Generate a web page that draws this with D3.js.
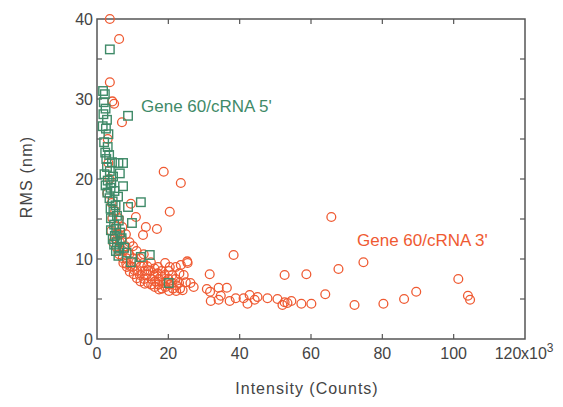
<!DOCTYPE html>
<html><head><meta charset="utf-8">
<script src="https://cdn.jsdelivr.net/npm/d3@7"></script>
<style>body{margin:0;background:#fff}svg{display:block}</style>
</head><body>
<svg id="c" width="563" height="407"></svg>
<script>
// Gene 60/cRNA 3' (circles): [intensity x10^3, RMS nm]
const series3 = [
 [3.6,40.0],[6.2,37.5],[3.6,32.1],[4.3,29.7],[4.8,29.4],[7.0,27.1],[3.0,25.0],
 [18.7,20.9],[23.5,19.5],[20.4,15.9],[16.8,13.75],[13.7,14.0],[12.9,13.0],[10.9,15.25],[9.5,16.9],
 [3.2,22.0],[3.5,20.0],[2.9,18.2],[4.1,17.0],[4.3,15.1],[4.0,13.5],[4.5,12.1],
 [5.1,16.0],[5.3,14.1],[5.0,12.6],[5.4,11.5],[5.6,13.2],
 [6.1,15.1],[6.3,13.0],[6.0,11.1],[6.4,12.1],[6.2,10.6],
 [7.1,14.0],[7.0,12.5],[7.3,11.0],[7.2,10.1],[7.4,9.5],
 [8.1,13.1],[8.0,11.6],[8.3,10.1],[8.2,9.4],[8.4,9.0],
 [9.1,12.1],[9.0,10.6],[9.3,9.1],[9.2,8.4],
 [10.1,11.6],[10.2,10.1],[10.0,9.0],[10.3,8.1],[10.5,8.6],
 [11.1,11.0],[11.0,9.6],[11.3,8.5],[11.2,7.6],
 [12.1,10.1],[12.3,9.1],[12.0,8.0],[12.2,7.2],
 [13.1,10.6],[13.0,9.5],[13.3,8.5],[13.2,7.5],[13.4,6.9],
 [14.1,9.1],[14.0,8.1],[14.3,7.0],[14.4,8.6],
 [15.1,9.6],[15.0,8.5],[15.3,7.5],[15.2,6.8],
 [16.1,8.8],[16.0,8.0],[16.3,7.2],[16.2,6.5],
 [17.1,9.0],[17.0,8.2],[17.3,7.5],[17.2,6.8],[17.4,6.2],
 [18.1,8.5],[18.0,7.8],[18.3,7.0],[18.2,6.3],
 [19.1,9.5],[19.0,8.0],[19.3,7.2],[19.2,6.5],
 [20.1,8.5],[20.0,7.5],[20.3,6.8],[20.2,6.0],[20.4,9.0],
 [21.1,8.0],[21.0,7.0],[21.3,6.3],
 [22.1,9.0],[22.0,7.5],[22.3,6.7],[22.2,6.0],
 [23.1,8.2],[23.0,7.0],[23.3,6.3],
 [23.5,9.25],[25.4,9.5],[25.3,9.7],[24.3,8.0],[24.9,7.1],[27.1,6.5],[24.0,6.1],[26.2,7.0],
 [30.8,6.25],[31.6,8.1],[31.7,5.9],[31.9,4.75],[34.1,6.4],[34.1,4.9],[34.7,5.4],[36.4,6.4],
 [37.2,4.75],[38.3,10.5],[38.9,5.1],[41.1,5.1],[42.2,4.4],[42.8,5.5],[44.2,4.9],[45.0,5.25],
 [47.8,5.1],[50.6,5.0],[52.0,4.25],[52.6,4.6],[52.6,8.0],[53.4,4.5],[54.5,4.75],[57.3,4.4],
 [58.7,8.1],[60.1,4.4],[64.0,5.6],[65.7,15.25],[67.7,8.75],[72.2,4.25],[74.7,9.6],
 [80.3,4.4],[86.1,5.0],[89.5,5.9],[101.3,7.5],[104.0,5.4],[104.6,4.9]
];
// Gene 60/cRNA 5' (squares)
const series5 = [
 [3.6,36.2],[1.7,31.0],[2.2,30.6],[1.9,29.6],[2.4,28.8],[1.8,28.1],[2.8,27.4],[1.6,26.6],
 [2.5,26.3],[3.2,25.6],[8.7,27.9],[2.0,24.6],[3.0,24.0],[2.3,23.3],[3.4,23.0],[4.2,22.1],
 [7.3,22.0],[6.0,22.0],[2.8,21.5],[3.6,21.0],[2.1,20.6],[4.5,20.3],[6.4,20.7],[3.0,19.8],[2.4,19.2],
 [3.8,18.9],[7.3,19.1],[4.9,18.5],[2.9,18.3],[3.5,17.6],[4.4,17.2],[12.3,17.1],[5.2,16.7],
 [3.8,16.3],[8.7,16.5],[4.6,15.9],[5.6,15.4],[3.9,15.1],[6.1,14.8],[9.8,14.5],[4.8,14.3],
 [5.4,13.8],[3.9,13.6],[6.5,13.3],[5.0,12.9],[4.4,12.5],[6.9,12.6],[5.6,12.1],[4.8,11.8],
 [7.6,11.4],[6.3,11.3],[5.3,11.0],[8.3,10.8],[6.0,10.4],[12.3,10.25],[14.8,10.5],[9.5,9.6],
 [20.1,7.0],[4.0,19.5],[5.9,17.8],[2.6,22.5]
];
const xTicks = [0,20,40,60,80,100,120];
const yTicks = [0,10,20,30,40];
const yMinor = [5,15,25,35];
const label3 = "Gene 60/cRNA 3'";
const label5 = "Gene 60/cRNA 5'";

const svg = d3.select('#c');
const L=97, R=525, T=19, B=339;
const x = d3.scaleLinear().domain([0,120]).range([L,R]);
const y = d3.scaleLinear().domain([0,40]).range([B,T]);
const axisCol = '#555';
const font = "'Liberation Sans', Arial, sans-serif";

// frame
svg.append('rect').attr('x',L).attr('y',T).attr('width',R-L).attr('height',B-T)
  .attr('fill','none').attr('stroke',axisCol).attr('stroke-width',1.5);

// ticks (inward)
const tl = 5;
const g = svg.append('g').attr('stroke',axisCol).attr('stroke-width',1.2);
xTicks.slice(1,-1).forEach(v=>{
  g.append('line').attr('x1',x(v)).attr('x2',x(v)).attr('y1',B).attr('y2',B-tl);
  g.append('line').attr('x1',x(v)).attr('x2',x(v)).attr('y1',T).attr('y2',T+tl);
});
yTicks.slice(1,-1).concat(yMinor).forEach(v=>{
  g.append('line').attr('x1',L).attr('x2',L+tl).attr('y1',y(v)).attr('y2',y(v));
  g.append('line').attr('x1',R).attr('x2',R-tl).attr('y1',y(v)).attr('y2',y(v));
});

// tick labels
const tx = svg.append('g').attr('fill','#444').attr('font-family',font).attr('font-size',16);
xTicks.forEach(v=>{
  const t = tx.append('text').attr('y',B+20).attr('text-anchor','middle').text(v);
  if (v===120) t.attr('x', x(v)-17); else t.attr('x', x(v));
});
tx.append('text').attr('x',x(120)-4).attr('y',B+20).text('x10')
  .append('tspan').attr('dy',-7).attr('font-size',12).text('3');
yTicks.forEach(v=>{
  tx.append('text').attr('x',L-4).attr('y',y(v)+6).attr('text-anchor','end').text(v);
});

// axis titles
svg.append('text').attr('x',(L+R)/2-4).attr('y',394).attr('text-anchor','middle')
  .attr('font-family',font).attr('font-size',16).attr('fill','#444').attr('letter-spacing',1)
  .text('Intensity (Counts)');
svg.append('text').attr('transform',`translate(32,${(T+B)/2 - 2}) rotate(-90)`)
  .attr('text-anchor','middle').attr('font-family',font).attr('font-size',16).attr('fill','#444')
  .attr('letter-spacing',1.2).text('RMS (nm)');

// marks
const red = '#ef5a32', green = '#3f8a68';
svg.append('g').selectAll('circle').data(series3).join('circle')
  .attr('cx',d=>x(d[0])).attr('cy',d=>y(d[1])).attr('r',4.4)
  .attr('fill','none').attr('stroke',red).attr('stroke-width',1.3);
const s = 8.5;
svg.append('g').selectAll('rect').data(series5).join('rect')
  .attr('x',d=>x(d[0])-s/2).attr('y',d=>y(d[1])-s/2).attr('width',s).attr('height',s)
  .attr('fill','none').attr('stroke',green).attr('stroke-width',1.4);

// series labels
svg.append('text').attr('x',141).attr('y',112).attr('font-family',font).attr('font-size',17)
  .attr('fill',green).text(label5);
svg.append('text').attr('x',357).attr('y',246).attr('font-family',font).attr('font-size',17)
  .attr('fill',red).text(label3);
</script>
</body></html>
